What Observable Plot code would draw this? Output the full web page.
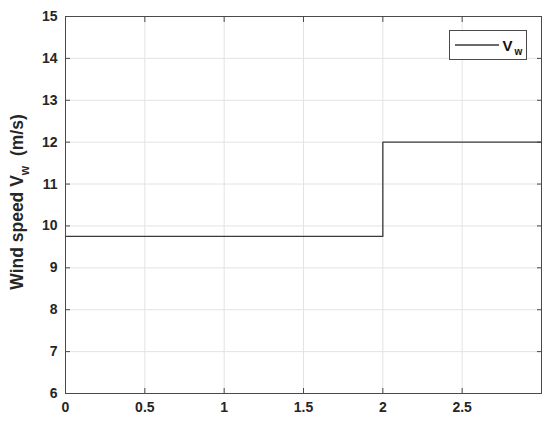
<!DOCTYPE html>
<html>
<head>
<meta charset="utf-8">
<script src="https://cdn.jsdelivr.net/npm/d3@7"></script>
<script src="https://cdn.jsdelivr.net/npm/@observablehq/plot@0.6"></script>
<style>
  html, body { margin: 0; padding: 0; background: #fff; }
  #chart { width: 550px; height: 426px; }
</style>
</head>
<body>
<div id="chart"></div>
<script>
// Data
const timeS = [0, 2, 3];
const windSpeed = [9.75, 12, 12];
const xTicks = [0, 0.5, 1, 1.5, 2, 2.5];
const xGrid = [0.5, 1, 1.5, 2, 2.5];
const yTicks = [6, 7, 8, 9, 10, 11, 12, 13, 14, 15];
const yGrid = [7, 8, 9, 10, 11, 12, 13, 14];
const seriesName = "V";
const seriesSub = "w";
const yLabelMain = "Wind speed V";
const yLabelSub = "w";
const yLabelUnit = "  (m/s)";

const data = timeS.map((t, i) => ({t, v: windSpeed[i]}));

const W = 550, H = 426;
const mL = 65, mR = 9, mT = 16, mB = 33;
const textColor = "#262626";
const axisColor = "#4a4a4a";
const font = "'Liberation Sans', Arial, sans-serif";

const plot = Plot.plot({
  width: W, height: H,
  marginLeft: mL, marginRight: mR, marginTop: mT, marginBottom: mB,
  style: {fontFamily: font, fontSize: "14px", fontWeight: "bold", color: textColor, background: "#fff"},
  x: {domain: [0, 3]},
  y: {domain: [6, 15]},
  marks: [
    Plot.ruleX(xGrid, {stroke: "#e3e3e3", strokeWidth: 1}),
    Plot.ruleY(yGrid, {stroke: "#e3e3e3", strokeWidth: 1}),
    Plot.axisX(xTicks, {anchor: "bottom", tickSize: -5, tickPadding: 14, tickFormat: d => String(d), label: null, stroke: axisColor, fill: textColor, fontSize: 14, fontWeight: "bold"}),
    Plot.axisX(xTicks, {anchor: "top", tickSize: -5, tickFormat: () => "", label: null, stroke: axisColor}),
    Plot.axisY(yTicks, {anchor: "left", tickSize: -5, tickPadding: 13, tickFormat: d => String(d), label: null, stroke: axisColor, fill: textColor, fontSize: 14, fontWeight: "bold"}),
    Plot.axisY(yTicks, {anchor: "right", tickSize: -5, tickFormat: () => "", label: null, stroke: axisColor}),
    Plot.line(data, {x: "t", y: "v", curve: "step-after", stroke: "#3a3a3a", strokeWidth: 1.3}),
    Plot.frame({stroke: axisColor, strokeWidth: 1})
  ]
});

document.getElementById("chart").appendChild(plot);

const svg = d3.select(plot);

// Y axis label with subscript
const yl = svg.append("text")
  .attr("transform", `translate(23, 202) rotate(-90)`)
  .attr("text-anchor", "middle")
  .attr("font-family", font)
  .attr("font-weight", "bold")
  .attr("font-size", 17.5)
  .attr("fill", textColor)
  .style("white-space", "pre");
yl.append("tspan").text(yLabelMain);
yl.append("tspan").attr("font-size", 12).attr("dy", 6).text(yLabelSub);
yl.append("tspan").attr("dy", -6).text(yLabelUnit);

// Legend
const lg = svg.append("g").attr("transform", "translate(449.5, 30.5)");
lg.append("rect").attr("width", 77).attr("height", 29)
  .attr("fill", "#fff").attr("stroke", axisColor).attr("stroke-width", 1);
lg.append("line").attr("x1", 5.5).attr("x2", 49.5).attr("y1", 14.5).attr("y2", 14.5)
  .attr("stroke", "#3a3a3a").attr("stroke-width", 1.3);
const lt = lg.append("text").attr("x", 53).attr("y", 20)
  .attr("text-anchor", "start")
  .attr("font-family", font).attr("font-weight", "bold").attr("font-size", 15).attr("fill", "#111");
lt.append("tspan").text(seriesName);
lt.append("tspan").attr("font-size", 10).attr("dy", 4).attr("dx", 2).text(seriesSub);
</script>
</body>
</html>
